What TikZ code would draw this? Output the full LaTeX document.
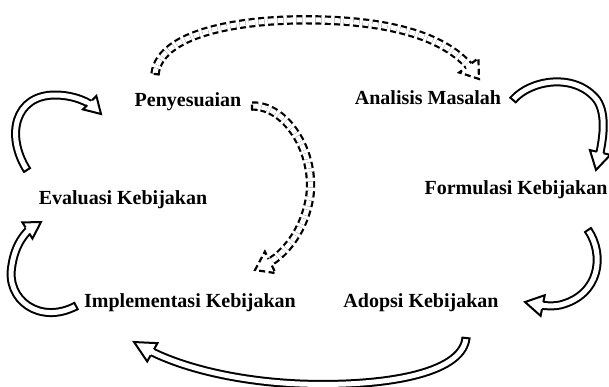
\documentclass[tikz,border=0pt]{standalone}
\usepackage{fontspec}
\setmainfont{Liberation Serif}
\usetikzlibrary{decorations.markings}
\newcommand\bandarrow[6][]{%
  \pgfmathsetmacro\BAo{#3/2+#4}%
  \pgfmathsetmacro\BAi{#3/2+#4/2}%
  \pgfmathsetmacro\BAs{#6*0.6}%
  \draw[#1, line width=#4pt, double=white, double distance=#3pt, line cap=butt, shorten >=\BAs pt] #2;
  \path[decorate, decoration={markings,
    mark=at position 0 with {\draw[#1, line width=#4pt, line cap=butt] (0,-\BAo) -- (0,\BAo);},
    mark=at position 0.9999 with {\fill[white] (0,0) -- (-#6,#5) -- (-#6,-#5) -- cycle;
      \draw[#1, line width=#4pt, line join=miter] (-#6,\BAi) -- (-#6,#5) -- (0,0) -- (-#6,-#5) -- (-#6,-\BAi);}}] #2;
}
\tikzset{lbl/.style={anchor=base, inner sep=0pt, font=\fontsize{20}{24}\selectfont\bfseries},
  dashband/.style={dash pattern=on 6pt off 3.5pt}}
\begin{document}
\begin{tikzpicture}[x=1pt,y=1pt]
\useasboundingbox (0,0) rectangle (609,-386);
% labels
\node[lbl] (pen) at (188,-106) {Penyesuaian};
\node[lbl] (ana) at (428,-104) {Analisis Masalah};
\node[lbl] (for) at (516,-194) {Formulasi Kebijakan};
\node[lbl] (eva) at (123,-204) {Evaluasi Kebijakan};
\node[lbl] (imp) at (190,-307) {Implementasi Kebijakan};
\node[lbl] (ado) at (421,-307) {Adopsi Kebijakan};
% solid block arrows
\bandarrow{(27,-170) .. controls (5,-135) and (15,-95) .. (55,-95) .. controls (75,-95) and (90,-103) .. (101,-114)}{5}{2}{9.5}{16}
\bandarrow{(76,-306) .. controls (40,-325) and (5,-300) .. (12,-265) .. controls (15,-245) and (25,-232) .. (41,-222)}{5}{2}{9.5}{16}
\bandarrow{(513,-100) .. controls (530,-80) and (575,-72) .. (597,-100) .. controls (607,-115) and (603,-140) .. (596,-170)}{5}{2}{10.5}{18}
\bandarrow{(588,-230) .. controls (605,-255) and (600,-295) .. (560,-305) .. controls (550,-307) and (540,-305) .. (525,-302)}{5}{2}{10.5}{18}
\bandarrow{(466,-338) .. controls (462,-375) and (380,-387) .. (300,-384) .. controls (230,-381) and (175,-365) .. (134,-342)}{5}{2}{10.5}{21}
% dashed block arrows
\bandarrow[dashband]{(155,-74) .. controls (160,-30) and (250,-18) .. (320,-20) .. controls (400,-22) and (450,-40) .. (479,-79)}{5}{2.2}{12}{17}
\bandarrow[dashband]{(252,-106) .. controls (285,-105) and (315,-150) .. (310,-195) .. controls (305,-230) and (285,-255) .. (255,-270)}{5}{2.2}{12}{17}
\end{tikzpicture}
\end{document}
